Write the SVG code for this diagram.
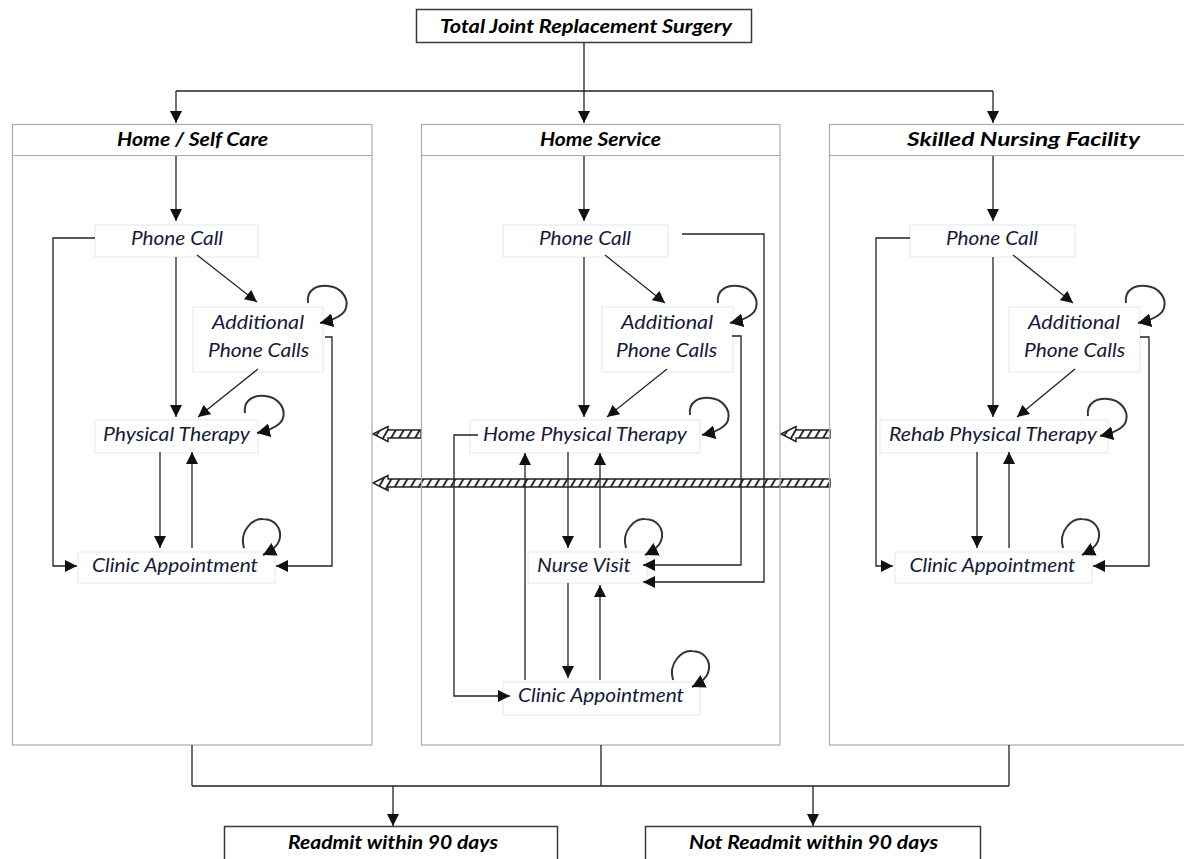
<svg xmlns="http://www.w3.org/2000/svg" width="1184" height="859" viewBox="0 0 1184 859">
<defs>
<style>
.lane{fill:none;stroke:#a9abae;stroke-width:1.2}
.node{fill:#fff;stroke:#ebf1f8;stroke-width:1.5}
.term{fill:#fff;stroke:#3a3a3a;stroke-width:1.5}
.t{font-family:Lato,"Liberation Sans",sans-serif;font-style:italic;font-size:19px;fill:#15193a;text-anchor:middle}
.h{font-family:Lato,"Liberation Sans",sans-serif;font-style:italic;font-weight:bold;font-size:18px;fill:#000;text-anchor:middle}
.c{fill:none;stroke:#222;stroke-width:1.3;marker-end:url(#ah)}
.l{fill:none;stroke:#222;stroke-width:1.3}
.loop{fill:none;stroke:#333;stroke-width:2;marker-end:url(#ahl)}
.hatch{fill:url(#hp);stroke:#222;stroke-width:1.4}
</style>
<marker id="ah" markerUnits="userSpaceOnUse" markerWidth="12" markerHeight="12" refX="12" refY="6" orient="auto"><path d="M0,0 L12,6 L0,12 z" fill="#111"/></marker>
<marker id="ahl" markerUnits="userSpaceOnUse" markerWidth="14" markerHeight="14" refX="13" refY="7" orient="auto"><path d="M0,0 L13,7 L0,14 z" fill="#111"/></marker>
<pattern id="hp" patternUnits="userSpaceOnUse" width="8" height="10" patternTransform="skewX(-30)"><rect width="8" height="10" fill="#fff"/><line x1="4" y1="0" x2="4" y2="10" stroke="#222" stroke-width="2.2"/></pattern>
<path id="loopA" d="M-12,-20 C-14,-34 -2,-38 8,-37 C20,-36 29,-26 26,-15 C24,-8 14,-3 0,0"/>
<path id="loopB" d="M-19,-7 C-24,-24 -10,-37 0,-36 C12,-36 20,-26 16,-14 C14,-8 8,-4 0,0"/>
</defs>
<rect width="1184" height="859" fill="#fff"/>

<g id="transfer-arrows">
<polygon class="hatch" points="373,434 388,426.5 388,430 421,430 421,438 388,438 388,441.5"/>
<polygon class="hatch" points="781,434 796,426.5 796,430 830,430 830,438 796,438 796,441.5"/>
<polygon class="hatch" points="373,483 388,475.5 388,479 830,479 830,487 388,487 388,490.5"/>
</g>

<g id="top">
<rect class="term" x="416.5" y="9.5" width="335" height="33"/>
<text class="h" x="586" y="33" textLength="292" lengthAdjust="spacingAndGlyphs">Total Joint Replacement Surgery</text>
</g>

<g id="lane-home-self-care">
<rect class="lane" x="12.5" y="124.5" width="359.5" height="620.5"/>
<line class="lane" x1="12.5" y1="155.5" x2="372" y2="155.5"/>
<text class="h" x="192.5" y="146" textLength="151" lengthAdjust="spacingAndGlyphs">Home / Self Care</text>
</g>
<g id="lane-home-service">
<rect class="lane" x="421.5" y="124.5" width="358.5" height="620.5"/>
<line class="lane" x1="421.5" y1="155.5" x2="780" y2="155.5"/>
<text class="h" x="600.5" y="146" textLength="121" lengthAdjust="spacingAndGlyphs">Home Service</text>
</g>
<g id="lane-skilled-nursing">
<rect class="lane" x="829.5" y="124.5" width="380" height="620.5"/>
<line class="lane" x1="829.5" y1="155.5" x2="1209.5" y2="155.5"/>
<text class="h" x="1023.5" y="146" textLength="233" lengthAdjust="spacingAndGlyphs">Skilled Nursing Facility</text>
</g>

<g id="hs-phone"><rect class="node" x="95" y="225" width="163" height="32"/><text class="t" x="177" y="245" textLength="92" lengthAdjust="spacingAndGlyphs">Phone Call</text></g>
<g id="hs-additional"><rect class="node" x="193" y="307" width="130" height="65"/><text class="t" x="258" y="329" textLength="92" lengthAdjust="spacingAndGlyphs">Additional</text><text class="t" x="258.5" y="357" textLength="101" lengthAdjust="spacingAndGlyphs">Phone Calls</text></g>
<g id="hs-pt"><rect class="node" x="95" y="420" width="163" height="33"/><text class="t" x="176.5" y="441" textLength="147" lengthAdjust="spacingAndGlyphs">Physical Therapy</text></g>
<g id="hs-clinic"><rect class="node" x="78" y="552" width="197" height="31"/><text class="t" x="175" y="572" textLength="166" lengthAdjust="spacingAndGlyphs">Clinic Appointment</text></g>

<g id="sv-phone"><rect class="node" x="503" y="225" width="165" height="32"/><text class="t" x="585" y="245" textLength="92" lengthAdjust="spacingAndGlyphs">Phone Call</text></g>
<g id="sv-additional"><rect class="node" x="602" y="307" width="131" height="65"/><text class="t" x="667" y="329" textLength="92" lengthAdjust="spacingAndGlyphs">Additional</text><text class="t" x="666.5" y="357" textLength="101" lengthAdjust="spacingAndGlyphs">Phone Calls</text></g>
<g id="sv-hpt"><rect class="node" x="470" y="420" width="230" height="33"/><text class="t" x="585" y="441" textLength="204" lengthAdjust="spacingAndGlyphs">Home Physical Therapy</text></g>
<g id="sv-nurse"><rect class="node" x="528" y="552" width="119" height="31"/><text class="t" x="584" y="572" textLength="94" lengthAdjust="spacingAndGlyphs">Nurse Visit</text></g>
<g id="sv-clinic"><rect class="node" x="503" y="682" width="197" height="33"/><text class="t" x="601" y="702" textLength="166" lengthAdjust="spacingAndGlyphs">Clinic Appointment</text></g>

<g id="sn-phone"><rect class="node" x="910" y="225" width="165" height="32"/><text class="t" x="992" y="245" textLength="92" lengthAdjust="spacingAndGlyphs">Phone Call</text></g>
<g id="sn-additional"><rect class="node" x="1009" y="307" width="131" height="65"/><text class="t" x="1074" y="329" textLength="92" lengthAdjust="spacingAndGlyphs">Additional</text><text class="t" x="1074.5" y="357" textLength="101" lengthAdjust="spacingAndGlyphs">Phone Calls</text></g>
<g id="sn-rpt"><rect class="node" x="880" y="420" width="228" height="33"/><text class="t" x="993" y="441" textLength="208" lengthAdjust="spacingAndGlyphs">Rehab Physical Therapy</text></g>
<g id="sn-clinic"><rect class="node" x="895" y="552" width="197" height="31"/><text class="t" x="992.5" y="572" textLength="166" lengthAdjust="spacingAndGlyphs">Clinic Appointment</text></g>

<g id="readmit"><rect class="term" x="224.5" y="826.5" width="333" height="40"/><text class="h" x="393" y="849" textLength="210" lengthAdjust="spacingAndGlyphs">Readmit within 90 days</text></g>
<g id="not-readmit"><rect class="term" x="645.5" y="826.5" width="335" height="40"/><text class="h" x="813.5" y="849" textLength="249" lengthAdjust="spacingAndGlyphs">Not Readmit within 90 days</text></g>

<g id="connectors">
<path class="l" d="M584,42 L584,91 M176,91 L993,91"/>
<path class="c" d="M176,91 L176,123"/>
<path class="c" d="M584,91 L584,123"/>
<path class="c" d="M993,91 L993,123"/>

<path class="c" d="M176,156 L176,221"/>
<path class="c" d="M176,257 L176,417"/>
<path class="c" d="M197,255 L257,302"/>
<path class="c" d="M258,369 L198,417"/>
<path class="c" d="M95,238 L53,238 L53,566 L77,566"/>
<path class="c" d="M325,337 L332,337 L332,566 L276,566"/>
<path class="c" d="M160,452 L160,548"/>
<path class="c" d="M192,548 L192,452"/>
<use href="#loopA" class="loop" x="320" y="323"/>
<use href="#loopA" class="loop" x="257" y="433"/>
<use href="#loopB" class="loop" x="263" y="555"/>

<path class="c" d="M584,156 L584,221"/>
<path class="c" d="M584,257 L584,417"/>
<path class="c" d="M605,255 L665,303"/>
<path class="c" d="M667,369 L607,417"/>
<path class="c" d="M682,234 L764,234 L764,582 L643,582"/>
<path class="c" d="M732,336 L741,336 L741,565 L643,565"/>
<path class="c" d="M478,435 L454,435 L454,696 L510,696"/>
<path class="c" d="M568,452 L568,548"/>
<path class="c" d="M600,548 L600,453"/>
<path class="c" d="M525,680 L525,453"/>
<path class="c" d="M568,583 L568,678"/>
<path class="c" d="M600,680 L600,585"/>
<use href="#loopA" class="loop" x="730" y="323"/>
<use href="#loopA" class="loop" x="702" y="435"/>
<use href="#loopB" class="loop" x="645" y="555"/>
<use href="#loopB" class="loop" x="692" y="687"/>

<path class="c" d="M993,156 L993,221"/>
<path class="c" d="M993,257 L993,417"/>
<path class="c" d="M1013,255 L1073,303"/>
<path class="c" d="M1075,369 L1017,417"/>
<path class="c" d="M910,238 L876,238 L876,566 L893,566"/>
<path class="c" d="M1140,337 L1149,337 L1149,566 L1093,566"/>
<path class="c" d="M977,452 L977,548"/>
<path class="c" d="M1009,548 L1009,452"/>
<use href="#loopA" class="loop" x="1138" y="323"/>
<use href="#loopA" class="loop" x="1100" y="436"/>
<use href="#loopB" class="loop" x="1082" y="555"/>

<path class="l" d="M192,745 L192,786 M601,745 L601,786 M1009,745 L1009,786 M192,786 L1009,786"/>
<path class="c" d="M393,786 L393,826"/>
<path class="c" d="M813,786 L813,826"/>
</g>
</svg>
